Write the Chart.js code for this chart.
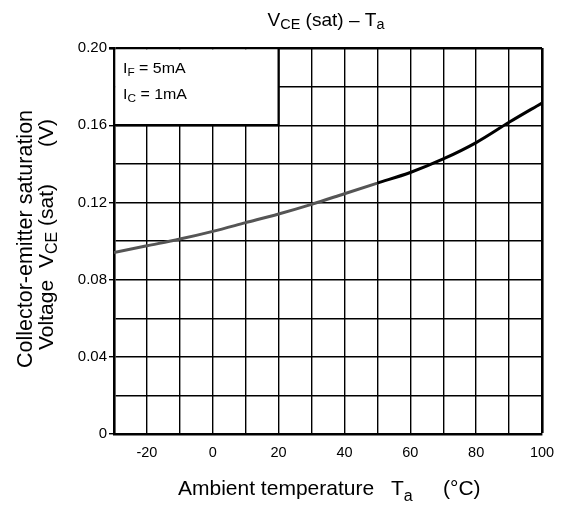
<!DOCTYPE html>
<html>
<head>
<meta charset="utf-8">
<script src="https://cdn.jsdelivr.net/npm/chart.js@4/dist/chart.umd.min.js"></script>
<style>
  html, body { margin: 0; padding: 0; background: #fff; }
  canvas { display: block; }
</style>
</head>
<body>
<canvas id="grafico" width="561" height="506"></canvas>
<script>
// VCE(sat) vs ambient temperature, IF = 5mA, IC = 1mA
const temperaturas = [-30, -20, -10, 0, 10, 20, 30, 40, 50, 60, 70, 80, 90, 100];
const vceSat = [0.094, 0.0975, 0.101, 0.105, 0.1095, 0.114, 0.119, 0.1245, 0.130, 0.1355, 0.1425, 0.151, 0.1615, 0.1715];
const etiquetasX = [-20, 0, 20, 40, 60, 80, 100];
const etiquetasY = ['0', '0.04', '0.08', '0.12', '0.16', '0.20'];

const FUENTE = '"Liberation Sans", Arial, sans-serif';

// dibuja trozos de texto (con subindices) uno tras otro, estirados en horizontal
function dibujarTrozos(ctx, trozos, x, y, estirar) {
    let pos = x;
    for (const t of trozos) {
        ctx.font = t.size + 'px ' + FUENTE;
        ctx.save();
        ctx.translate(pos, y + (t.dy || 0));
        ctx.scale(estirar, 1);
        ctx.fillText(t.text, 0, 0);
        ctx.restore();
        pos += ctx.measureText(t.text).width * estirar;
    }
    return pos;
}

function anchoTrozos(ctx, trozos, estirar) {
    let w = 0;
    for (const t of trozos) {
        ctx.font = t.size + 'px ' + FUENTE;
        w += ctx.measureText(t.text).width * estirar;
    }
    return w;
}

const textosPlugin = {
    id: 'textos',
    beforeDatasetsDraw(chart) {
        // recuadro blanco de las condiciones de medida
        const ctx = chart.ctx;
        const x = chart.scales.x, y = chart.scales.y;
        const izq = x.getPixelForValue(-30), der = x.getPixelForValue(20);
        const arr = y.getPixelForValue(0.2), abj = y.getPixelForValue(0.16);
        ctx.save();
        ctx.fillStyle = '#fff';
        ctx.fillRect(izq + 1.5, arr + 1.5, der - izq - 1.5, abj - arr - 1.5);
        ctx.strokeStyle = '#000';
        ctx.lineWidth = 2.2;
        ctx.beginPath();
        ctx.moveTo(der, arr);
        ctx.lineTo(der, abj);
        ctx.lineTo(izq, abj);
        ctx.stroke();
        ctx.fillStyle = '#000';
        ctx.textBaseline = 'alphabetic';
        dibujarTrozos(ctx, [{text: 'I', size: 15.5}, {text: 'F', size: 11.5, dy: 3}, {text: ' = 5mA', size: 15.5}], izq + 9, arr + 25, 1.03);
        dibujarTrozos(ctx, [{text: 'I', size: 15.5}, {text: 'C', size: 11.5, dy: 3}, {text: ' = 1mA', size: 15.5}], izq + 9, arr + 51, 1.03);
        ctx.restore();
    },
    afterDraw(chart) {
        const ctx = chart.ctx;
        ctx.save();
        ctx.fillStyle = '#000';
        ctx.textBaseline = 'alphabetic';

        // titulo
        const titulo = [{text: 'V', size: 18.5}, {text: 'CE', size: 14, dy: 3}, {text: ' (sat) \u2013 T', size: 18.5}, {text: 'a', size: 14, dy: 3}];
        const wt = anchoTrozos(ctx, titulo, 1.03);
        dibujarTrozos(ctx, titulo, 326 - wt / 2, 26, 1.03);

        // titulo eje x
        dibujarTrozos(ctx, [{text: 'Ambient temperature', size: 21}], 178, 495, 1);
        dibujarTrozos(ctx, [{text: 'T', size: 21}, {text: 'a', size: 16, dy: 6}], 391, 495, 1);
        dibujarTrozos(ctx, [{text: '(\u00b0C)', size: 21}], 443, 495, 1);

        // titulo eje y (girado)
        ctx.rotate(-Math.PI / 2);
        const linea1 = [{text: 'Collector-emitter saturation', size: 21.5}];
        const w1 = anchoTrozos(ctx, linea1, 1);
        dibujarTrozos(ctx, linea1, -239 - w1 / 2, 32, 1);
        dibujarTrozos(ctx, [{text: 'Voltage', size: 21}], -350, 53, 1);
        dibujarTrozos(ctx, [{text: 'V', size: 21}, {text: 'CE', size: 16, dy: 4}, {text: ' (sat)', size: 21}], -268, 53, 1);
        dibujarTrozos(ctx, [{text: '(V)', size: 21}], -147, 53, 1);
        ctx.restore();
    }
};

new Chart(document.getElementById('grafico'), {
    type: 'line',
    data: {
        datasets: [{
            data: temperaturas.map((t, i) => ({x: t, y: vceSat[i]})),
            borderColor: '#000',
            borderWidth: 3,
            pointRadius: 0,
            cubicInterpolationMode: 'monotone',
            segment: {
                borderColor: c => (c.p1.parsed.x <= 50 ? '#555' : '#000')
            }
        }]
    },
    options: {
        responsive: false,
        animation: false,
        layout: { padding: { top: 48, right: 19, left: 0, bottom: 0 } },
        plugins: {
            legend: { display: false },
            tooltip: { enabled: false }
        },
        scales: {
            x: {
                type: 'linear',
                min: -30,
                max: 100,
                afterFit: s => { s.height = 72; s.paddingLeft = 0; s.paddingRight = 0; },
                ticks: {
                    stepSize: 10,
                    autoSkip: false,
                    maxRotation: 0,
                    padding: 10,
                    color: '#000',
                    font: { family: FUENTE, size: 14.5 },
                    callback: v => (etiquetasX.includes(v) ? String(v) : '')
                },
                grid: {
                    color: '#000',
                    lineWidth: c => (c.tick && c.tick.value === 100 ? 2.6 : 1.4),
                    drawTicks: false
                },
                border: { color: '#000', width: 2.6 }
            },
            y: {
                min: 0,
                max: 0.2,
                afterFit: s => { s.width = 114; },
                ticks: {
                    stepSize: 0.02,
                    autoSkip: false,
                    padding: 2,
                    color: '#000',
                    font: { family: FUENTE, size: 15 },
                    callback: v => {
                        const k = Math.round(v * 100);
                        return k % 4 === 0 ? etiquetasY[k / 4] : '';
                    }
                },
                grid: {
                    color: '#000',
                    lineWidth: c => (c.tick && Math.abs(c.tick.value - 0.2) < 1e-9 ? 2.6 : 1.4),
                    tickLength: 5,
                    tickColor: c => (c.tick && Math.round(c.tick.value * 100) % 4 === 0 ? '#000' : 'rgba(0,0,0,0)')
                },
                border: { color: '#000', width: 2.6 }
            }
        }
    },
    plugins: [textosPlugin]
});
</script>
</body>
</html>
